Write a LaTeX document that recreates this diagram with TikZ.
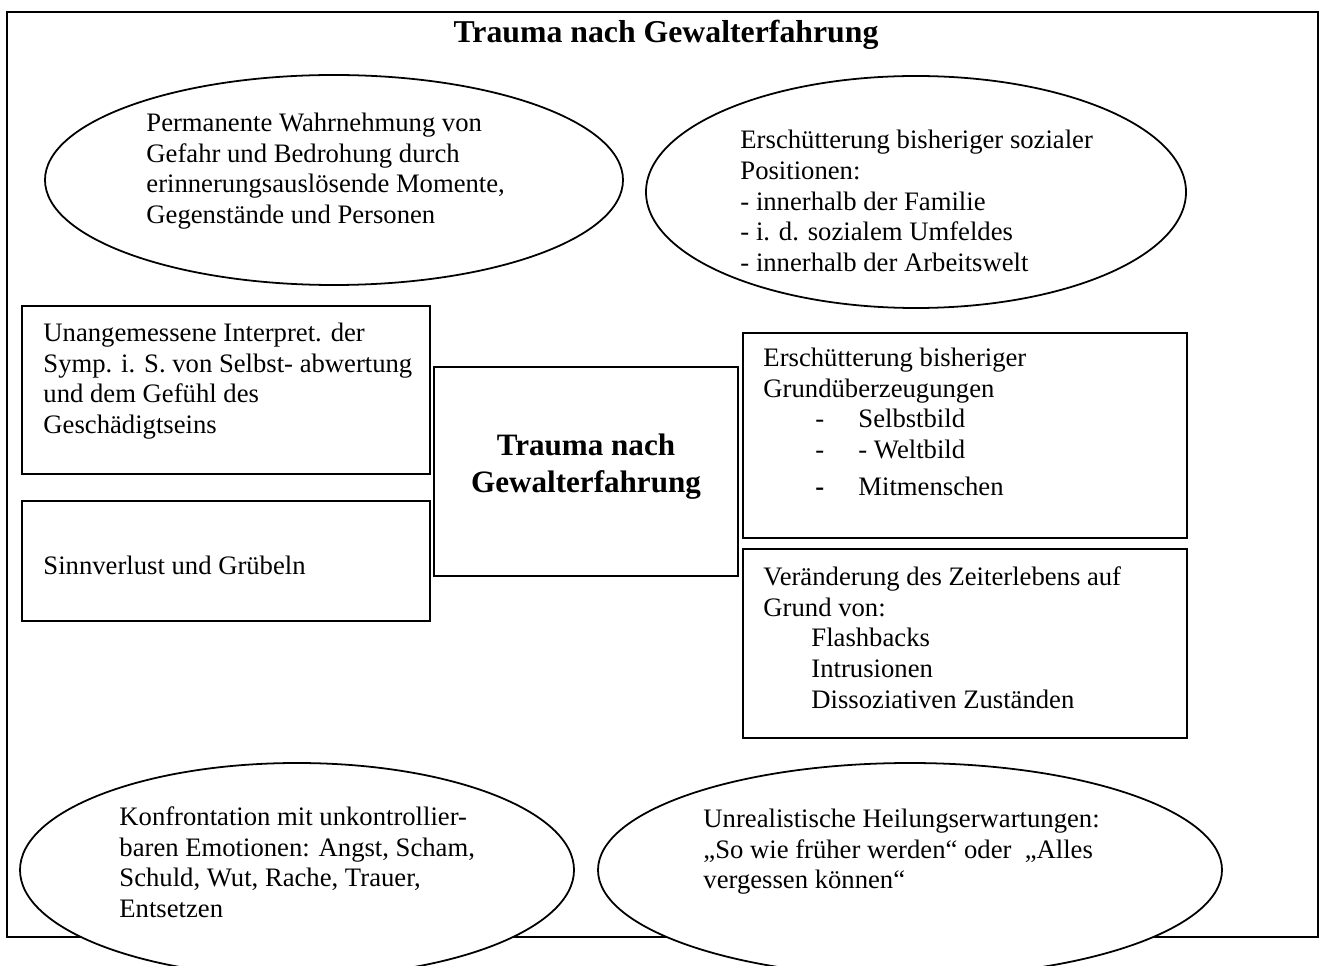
\documentclass[tikz,border=0pt]{standalone}
\usepackage{fontspec}
\setmainfont{Liberation Serif}
\usetikzlibrary{shapes.geometric}
\begin{document}
\begin{tikzpicture}[x=0.45pt,y=-0.45pt,
  txt/.style={anchor=north west, inner sep=0pt, align=left, font=\fontsize{12}{13.8}\selectfont},
  bold/.style={inner sep=0pt, align=center, font=\fontsize{14}{16.5}\selectfont\bfseries},
  ell/.style={draw, ellipse, line width=0.8pt, inner sep=0pt, fill=white},
  box/.style={draw, rectangle, line width=0.8pt, inner sep=0pt},
  frame/.style={draw, line width=1pt}]
\useasboundingbox (0,0) rectangle (1323,966);
\clip (0,0) rectangle (1323,966);
% outer frame
\draw[frame] (7,12) rectangle (1318,937);
\node[bold, anchor=base, font=\fontsize{14.3}{16.5}\selectfont\bfseries] (title) at (666,43) {Trauma nach Gewalterfahrung};
% top ellipses
\node[ell, minimum width=578*0.45pt, minimum height=210*0.45pt] (e1) at (334,180) {};
\node[txt] (t1) at (146,109.5) {\strut Permanente Wahrnehmung von\\Gefahr und Bedrohung durch\\erinnerungsauslösende Momente,\\Gegenstände und Personen};
\node[ell, minimum width=540*0.45pt, minimum height=232*0.45pt] (e2) at (916,192) {};
\node[txt] (t2) at (740,127) {\strut Erschütterung bisheriger sozialer\\Positionen:\\- innerhalb der Familie\\- i. d. sozialem Umfeldes\\- innerhalb der Arbeitswelt};
% left boxes
\node[box, minimum width=408*0.45pt, minimum height=168*0.45pt] (b1) at (226,390) {};
\node[txt] (t3) at (43,319.5) {\strut Unangemessene Interpret. der\\Symp. i. S. von Selbst- abwertung\\und dem Gefühl des\\Geschädigtseins};
\node[box, minimum width=408*0.45pt, minimum height=120*0.45pt] (b2) at (226,561) {};
\node[txt] (t4) at (43,552.5) {\strut Sinnverlust und Grübeln};
% centre box
\node[box, minimum width=304*0.45pt, minimum height=209*0.45pt] (c) at (586,471.5) {};
\node[bold, anchor=north] (ct) at (586,429.3) {\strut Trauma nach\\Gewalterfahrung};
% right boxes
\node[box, minimum width=444*0.45pt, minimum height=205*0.45pt] (r1) at (965,435.5) {};
\node[txt] (t5) at (763,344.5) {\strut Erschütterung bisheriger\\Grundüberzeugungen\\
\hspace*{23.4pt}\makebox[19.35pt][l]{-}Selbstbild\\
\hspace*{23.4pt}\makebox[19.35pt][l]{-}- Weltbild\\[3pt]
\hspace*{23.4pt}\makebox[19.35pt][l]{\textbf{-}}Mitmenschen};
\node[box, minimum width=444*0.45pt, minimum height=189*0.45pt] (r2) at (965,643.5) {};
\node[txt] (t6) at (763,563.5) {\strut Veränderung des Zeiterlebens auf\\Grund von:\\
\hspace*{21.6pt}Flashbacks\\
\hspace*{21.6pt}Intrusionen\\
\hspace*{21.6pt}Dissoziativen Zuständen};
% bottom ellipses
\node[ell, minimum width=554*0.45pt, minimum height=214*0.45pt] (e3) at (297,870) {};
\node[txt] (t7) at (119,803.5) {\strut Konfrontation mit unkontrollier-\\baren Emotionen: Angst, Scham,\\Schuld, Wut, Rache, Trauer,\\Entsetzen};
\node[ell, minimum width=624*0.45pt, minimum height=214*0.45pt] (e4) at (910,870) {};
\node[txt] (t8) at (703,805.5) {\strut Unrealistische Heilungserwartungen:\\„So wie früher werden“ oder\ \ „Alles\\vergessen können“};
\end{tikzpicture}
\end{document}
